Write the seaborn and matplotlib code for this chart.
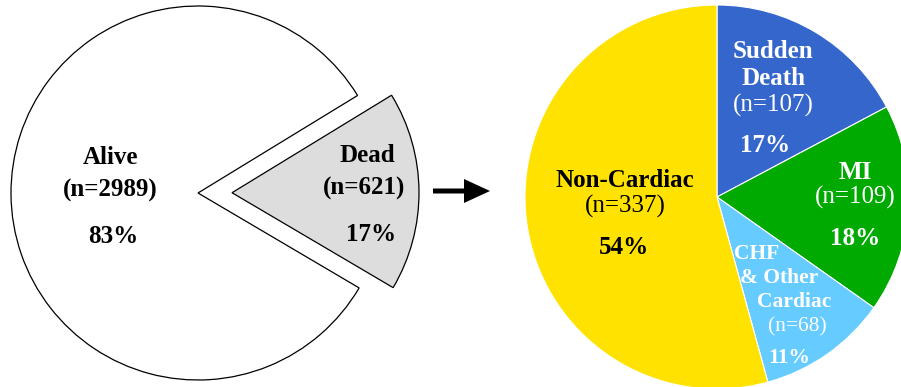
import matplotlib
matplotlib.use("Agg")
import matplotlib.pyplot as plt
import seaborn as sns
from matplotlib.patches import FancyArrow

sns.set_theme(style="white")
plt.rcParams["font.family"] = ["Liberation Serif", "DejaVu Serif"]

# Vital status of the cohort
status_labels = ["Dead", "Alive"]
status_counts = [621, 2989]
status_colors = ["#DDDDDD", "#FFFFFF"]

# Cause of death among those who died
cause_labels = ["Sudden\nDeath", "MI", "CHF\n& Other\nCardiac", "Non-Cardiac"]
cause_counts = [107, 109, 68, 337]
cause_colors = ["#3566CC", "#00AA00", "#66CCFF", "#FFE200"]
cause_text_colors = ["white", "white", "white", "black"]

W, H = 901, 387


def pct(n, total):
    return f"{round(100 * n / total):d}%"


fig = plt.figure(figsize=(W / 100, H / 100), dpi=100)
ax = fig.add_axes([0, 0, 1, 1])

# Left pie: alive vs dead, with the dead slice pulled out
ax.pie(status_counts, colors=status_colors, startangle=-30.5,
       explode=[34, 0], center=(198, 194), radius=187,
       wedgeprops=dict(edgecolor="black", linewidth=0.9))

# Right pie: causes of death, clockwise from twelve o'clock
ax.pie(cause_counts, colors=cause_colors, startangle=90, counterclock=False,
       center=(717, 190), radius=192,
       wedgeprops=dict(edgecolor="white", linewidth=0.8))

# Arrow linking the two pies
ax.add_patch(FancyArrow(433, 196, 57, 0, width=5, head_width=24,
                        head_length=26, length_includes_head=True,
                        color="black", linewidth=0))

# Label line positions (x centre, baseline y from top): name lines, n, percent
status_pos = {
    "Alive": ([(110.5, 164)], (110.5, 197), (113, 243)),
    "Dead": ([(367.5, 162)], (364.5, 195), (371, 241)),
}
cause_pos = {
    "Sudden\nDeath": ([(773, 58), (773, 85)], (773, 112), (765, 152), 18),
    "MI": ([(855, 179)], (855, 204), (855, 245), 18),
    "CHF\n& Other\nCardiac": ([(757, 259), (779.5, 283), (794.5, 307)],
                              (797.5, 331), (789, 363), 15.5),
    "Non-Cardiac": ([(624.5, 187)], (625, 213), (624, 254), 18),
}


def put(x, y, s, weight, size, color):
    ax.text(x, H - y, s, ha="center", va="baseline", fontsize=size,
            fontweight=weight, color=color)


total_status = sum(status_counts)
for lab, n in zip(status_labels, status_counts):
    names, npos, ppos = status_pos[lab]
    for (x, y), line in zip(names, lab.split("\n")):
        put(x, y, line, "bold", 18, "black")
    put(*npos, f"(n={n})", "bold", 18, "black")
    put(*ppos, pct(n, total_status), "bold", 18, "black")

total_cause = sum(cause_counts)
for lab, n, tc in zip(cause_labels, cause_counts, cause_text_colors):
    names, npos, ppos, size = cause_pos[lab]
    for (x, y), line in zip(names, lab.split("\n")):
        put(x, y, line, "bold", size, tc)
    put(*npos, f"(n={n})", "normal", size, tc)
    put(*ppos, pct(n, total_cause), "bold", size, tc)

ax.set_xlim(0, W)
ax.set_ylim(0, H)
ax.set_aspect("equal")
ax.axis("off")

fig.savefig("out.png", dpi=100, facecolor="white")
